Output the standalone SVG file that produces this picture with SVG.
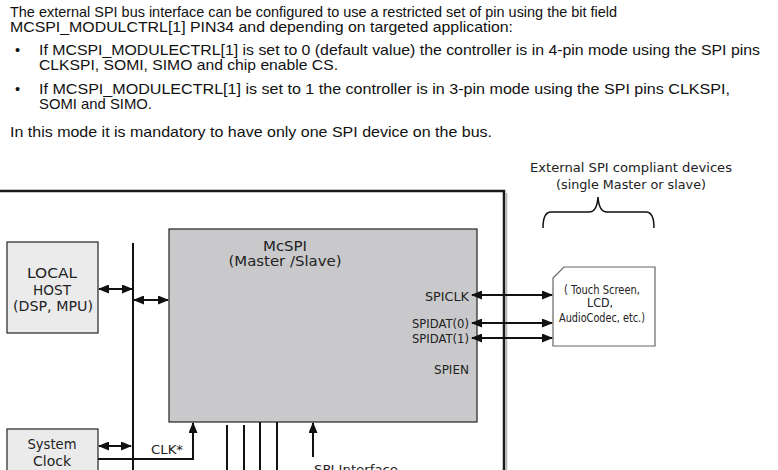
<svg xmlns="http://www.w3.org/2000/svg" width="778" height="470" viewBox="0 0 778 470">
<style>
  .para { font-family: "Liberation Sans", Arial, sans-serif; font-size: 14.5px; fill: #111; }
  .lbl { font-family: "DejaVu Sans", "Liberation Sans", sans-serif; fill: #222; }
  .box { stroke: #222; stroke-width: 1.2; }
  .wire { stroke: #111; stroke-width: 2; fill: none; }
</style>
<defs>
  <marker id="ah" markerUnits="userSpaceOnUse" markerWidth="11" markerHeight="9" refX="10" refY="4.5" orient="auto-start-reverse">
    <path d="M0,0 L11,4.5 L0,9 z" fill="#111"/>
  </marker>
</defs>
<rect width="778" height="470" fill="#fff"/>

<g id="text">
  <text class="para" x="10" y="17" textLength="607" lengthAdjust="spacingAndGlyphs">The external SPI bus interface can be configured to use a restricted set of pin using the bit field</text>
  <text class="para" x="10" y="32" textLength="503" lengthAdjust="spacingAndGlyphs">MCSPI_MODULCTRL[1] PIN34 and depending on targeted application:</text>
  <text class="para" x="15" y="55">•</text>
  <text class="para" x="39" y="55" textLength="721" lengthAdjust="spacingAndGlyphs">If MCSPI_MODULECTRL[1] is set to 0 (default value) the controller is in 4-pin mode using the SPI pins</text>
  <text class="para" x="39" y="70" textLength="299" lengthAdjust="spacingAndGlyphs">CLKSPI, SOMI, SIMO and chip enable CS.</text>
  <text class="para" x="15" y="94">•</text>
  <text class="para" x="39" y="94" textLength="691" lengthAdjust="spacingAndGlyphs">If MCSPI_MODULECTRL[1] is set to 1 the controller is in 3-pin mode using the SPI pins CLKSPI,</text>
  <text class="para" x="39" y="109" textLength="113" lengthAdjust="spacingAndGlyphs">SOMI and SIMO.</text>
  <text class="para" x="10" y="137" textLength="482" lengthAdjust="spacingAndGlyphs">In this mode it is mandatory to have only one SPI device on the bus.</text>
</g>

<g id="frame">
  <line x1="506.5" y1="193" x2="506.5" y2="470" stroke="#b5b5b5" stroke-width="1.5"/>
  <path d="M0,191 H504 V470" fill="none" stroke="#1a1a1a" stroke-width="2.5"/>
</g>

<g id="ext-label">
  <text class="lbl" x="631" y="172" font-size="13" text-anchor="middle" textLength="202" lengthAdjust="spacingAndGlyphs">External SPI compliant devices</text>
  <text class="lbl" x="631" y="189" font-size="13" text-anchor="middle" textLength="150" lengthAdjust="spacingAndGlyphs">(single Master or slave)</text>
  <path d="M543,228 Q543,212 551,212 H589 Q597,212 598,197 Q599,212 607,212 H646 Q654,212 654,228" fill="none" stroke="#111" stroke-width="1.5"/>
</g>

<g id="local-host">
  <rect class="box" x="7" y="242" width="91" height="91" fill="#ebebec"/>
  <text class="lbl" x="52" y="278" font-size="13.5" text-anchor="middle" textLength="50" lengthAdjust="spacingAndGlyphs">LOCAL</text>
  <text class="lbl" x="52" y="295" font-size="13.5" text-anchor="middle" textLength="38" lengthAdjust="spacingAndGlyphs">HOST</text>
  <text class="lbl" x="53" y="311" font-size="13.5" text-anchor="middle" textLength="80" lengthAdjust="spacingAndGlyphs">(DSP, MPU)</text>
</g>

<g id="system-clock">
  <rect class="box" x="7" y="429" width="91" height="50" fill="#ebebec"/>
  <text class="lbl" x="52" y="449" font-size="13.5" text-anchor="middle" textLength="49" lengthAdjust="spacingAndGlyphs">System</text>
  <text class="lbl" x="52" y="466" font-size="13.5" text-anchor="middle" textLength="38" lengthAdjust="spacingAndGlyphs">Clock</text>
</g>

<g id="mcspi">
  <rect class="box" x="169" y="229" width="308" height="193" fill="#c9c9cb"/>
  <text class="lbl" x="285" y="251" font-size="14" text-anchor="middle" textLength="44" lengthAdjust="spacingAndGlyphs">McSPI</text>
  <text class="lbl" x="285" y="266" font-size="14" text-anchor="middle" textLength="113" lengthAdjust="spacingAndGlyphs">(Master /Slave)</text>
  <text class="lbl" x="469" y="301" font-size="12" text-anchor="end" textLength="44" lengthAdjust="spacingAndGlyphs">SPICLK</text>
  <text class="lbl" x="469" y="328" font-size="12" text-anchor="end" textLength="57" lengthAdjust="spacingAndGlyphs">SPIDAT(0)</text>
  <text class="lbl" x="469" y="343" font-size="12" text-anchor="end" textLength="57" lengthAdjust="spacingAndGlyphs">SPIDAT(1)</text>
  <text class="lbl" x="469" y="374" font-size="12" text-anchor="end" textLength="35" lengthAdjust="spacingAndGlyphs">SPIEN</text>
</g>

<g id="ext-device">
  <path d="M553,278 L564,267 H655 V346 H553 Z" fill="#fff" stroke="#666" stroke-width="1.2"/>
  <text class="lbl" x="602" y="294" font-size="11.5" text-anchor="middle" textLength="76" lengthAdjust="spacingAndGlyphs">( Touch Screen,</text>
  <text class="lbl" x="600" y="307" font-size="11.5" text-anchor="middle" textLength="26" lengthAdjust="spacingAndGlyphs">LCD,</text>
  <text class="lbl" x="602" y="322" font-size="11.5" text-anchor="middle" textLength="86" lengthAdjust="spacingAndGlyphs">AudioCodec, etc.)</text>
</g>

<g id="connectors">
  <line x1="133" y1="243" x2="133" y2="470" stroke="#111" stroke-width="2"/>
  <line class="wire" x1="99" y1="289" x2="132" y2="289" marker-start="url(#ah)" marker-end="url(#ah)"/>
  <line class="wire" x1="134" y1="300" x2="168" y2="300" marker-start="url(#ah)" marker-end="url(#ah)"/>
  <line class="wire" x1="99" y1="446" x2="131" y2="446" marker-start="url(#ah)" marker-end="url(#ah)"/>
  <polyline class="wire" points="98,459 193,459 193,423" marker-end="url(#ah)"/>
  <text class="lbl" x="151" y="454" font-size="12" textLength="32" lengthAdjust="spacingAndGlyphs">CLK*</text>
  <line class="wire" x1="227" y1="425" x2="227" y2="470"/>
  <line class="wire" x1="244" y1="425" x2="244" y2="470"/>
  <line class="wire" x1="260" y1="422" x2="260" y2="470"/>
  <line class="wire" x1="277" y1="422" x2="277" y2="470"/>
  <line class="wire" x1="313" y1="457" x2="313" y2="423" marker-end="url(#ah)"/>
  <text class="lbl" x="314" y="474" font-size="13" textLength="84" lengthAdjust="spacingAndGlyphs">SPI Interface</text>
  <line class="wire" x1="472" y1="295" x2="552" y2="295" marker-start="url(#ah)" marker-end="url(#ah)"/>
  <line class="wire" x1="472" y1="323" x2="552" y2="323" marker-start="url(#ah)" marker-end="url(#ah)"/>
  <line class="wire" x1="472" y1="338" x2="552" y2="338" marker-start="url(#ah)" marker-end="url(#ah)"/>
</g>
</svg>
